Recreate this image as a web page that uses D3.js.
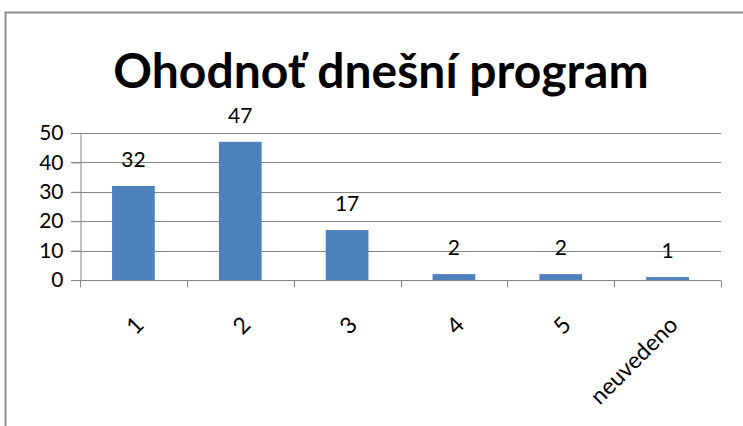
<!DOCTYPE html>
<html>
<head>
<meta charset="utf-8">
<script src="https://cdn.jsdelivr.net/npm/d3@7"></script>
<style>
  body { margin: 0; background: #fff; }
  text { font-family: Lato, "Open Sans", sans-serif; fill: #000; }
</style>
</head>
<body>
<svg id="chart" width="743" height="426"></svg>
<script>
const title = "Ohodnoť dnešní program";
const categories = ["1", "2", "3", "4", "5", "neuvedeno"];
const values = [32, 47, 17, 2, 2, 1];
const yTicks = [0, 10, 20, 30, 40, 50];

const width = 743,
  height = 426;
const margin = { top: 133, right: 22, bottom: 146, left: 80 };

const svg = d3.select("#chart");

// outer frame (only top and left edges are visible in the picture)
svg
  .append("path")
  .attr("d", `M5.5,${height} L5.5,12.5 L${width},12.5`)
  .attr("fill", "none")
  .attr("stroke", "#8c8c8c")
  .attr("stroke-width", 2);

svg
  .append("text")
  .attr("x", 381)
  .attr("y", 88)
  .attr("text-anchor", "middle")
  .style("font-size", "48px")
  .style("font-weight", "bold")
  .text(title);

const x = d3
  .scaleBand()
  .domain(categories)
  .range([margin.left, width - margin.right])
  .paddingInner(0.6)
  .paddingOuter(0.3);

const y = d3
  .scaleLinear()
  .domain([0, 50])
  .range([height - margin.bottom, margin.top]);

// gridlines
svg
  .append("g")
  .selectAll("line")
  .data(yTicks.slice(1))
  .join("line")
  .attr("x1", margin.left - 9)
  .attr("x2", width - margin.right)
  .attr("y1", d => Math.round(y(d)) + 0.5)
  .attr("y2", d => Math.round(y(d)) + 0.5)
  .attr("stroke", "#868686");

// y axis
const yAxis = svg
  .append("g")
  .attr("transform", `translate(${margin.left + 0.5},0)`)
  .call(d3.axisLeft(y).tickValues(yTicks).tickSize(9).tickPadding(8));
yAxis.select(".domain").attr("stroke", "#868686");
yAxis.selectAll(".tick line").attr("stroke", "#868686");
yAxis.selectAll(".tick text").style("font-size", "21px").attr("fill", "#000");

// x axis with category boundary ticks
const xAxisY = Math.round(y(0)) + 0.5;
const xg = svg.append("g");
xg.append("line")
  .attr("x1", margin.left - 9)
  .attr("x2", width - margin.right)
  .attr("y1", xAxisY)
  .attr("y2", xAxisY)
  .attr("stroke", "#868686");
const step = x.step();
xg.selectAll("line.sep")
  .data(d3.range(categories.length + 1))
  .join("line")
  .attr("class", "sep")
  .attr("x1", i => Math.round(margin.left + i * step) + 0.5)
  .attr("x2", i => Math.round(margin.left + i * step) + 0.5)
  .attr("y1", xAxisY)
  .attr("y2", xAxisY + 7)
  .attr("stroke", "#868686");

xg.selectAll("text")
  .data(categories)
  .join("text")
  .attr(
    "transform",
    d => `translate(${x(d) + x.bandwidth() / 2 + 6},${xAxisY + 40}) rotate(-45)`
  )
  .attr("text-anchor", "end")
  .attr("dy", "0.35em")
  .style("font-size", "23px")
  .text(d => d);

// bars
svg
  .append("g")
  .selectAll("rect")
  .data(values)
  .join("rect")
  .attr("x", (d, i) => x(categories[i]))
  .attr("y", d => y(d))
  .attr("width", x.bandwidth())
  .attr("height", d => y(0) - y(d))
  .attr("fill", "#4f81bd");

// data labels
svg
  .append("g")
  .selectAll("text")
  .data(values)
  .join("text")
  .attr("x", (d, i) => x(categories[i]) + x.bandwidth() / 2)
  .attr("y", d => y(d) - 19)
  .attr("text-anchor", "middle")
  .style("font-size", "21px")
  .text(d => d);
</script>
</body>
</html>
